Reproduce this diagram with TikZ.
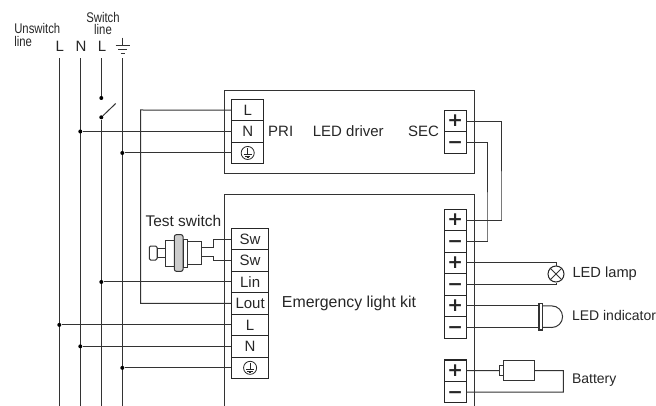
\documentclass[tikz,border=0pt]{standalone}
\usepackage{fontspec}
\setmainfont{Liberation Sans}
\newfontfamily\narrowfont[FakeStretch=0.81]{Liberation Sans}
\newfontfamily\signfont{DejaVu Sans}
\usetikzlibrary{positioning}
\tikzset{
    wire/.style={draw=black!80, line width=0.75pt},
    term/.style={
        draw=black!85, line width=0.8pt, outer sep=0pt, inner sep=0pt,
        minimum height=16.1pt, align=center,
        font=\fontsize{11.25}{13}\selectfont, text=black!85
    },
    termin/.style={term, minimum width=24pt},
    termlow/.style={term, minimum width=28.2pt},
    termsec/.style={term, minimum width=16.5pt, text height=8.8pt, text depth=0pt,
        font=\signfont\fontsize{14}{14}\bfseries\selectfont},
    lbl/.style={inner sep=0pt, outer sep=0pt, text=black!85, font=\fontsize{11.25}{13}\selectfont},
    sidelbl/.style={lbl, font=\fontsize{10.5}{13}\selectfont},
    toplbl/.style={inner sep=0pt, text=black!85, align=center, font=\narrowfont\fontsize{10.5}{9.6}\selectfont},
    busdot/.style={circle, fill=black, inner sep=0pt, minimum size=3pt},
    swpart/.style={draw=black!80, line width=0.75pt, inner sep=0pt, outer sep=0pt},
}
\begin{document}
\begin{tikzpicture}[x=0.75pt, y=-0.75pt]
\useasboundingbox (0,0) rectangle (656,406);

% ============ Mains lines ============

\node[toplbl, align=left, anchor=north west] (unsw) at (14,23) {Unswitch\\line};
\node[toplbl] (swl) at (103,23.5) {Switch\\line};
\node[lbl] (lbL) at (59.7,46) {L};
\node[lbl] (lbN) at (81,46) {N};
\node[lbl] (lbS) at (102,46) {L};

\coordinate (gndtop) at (122.3,37.7);
\coordinate (gndbar) at (122.3,45.7);
\draw[wire] (gndtop) -- (gndbar);
\draw[wire] (115.7,45.7) -- (130,45.7);
\draw[wire] (118.3,49.5) -- (127.3,49.5);
\draw[wire] (120.7,53.3) -- (125,53.3);

\foreach \busname/\busx in {L/59.3, N/80.3, S/101.3, E/122.3} {
    \coordinate (top\busname) at (\busx,58.3);
    \coordinate (bot\busname) at (\busx,406);
}
\draw[wire] (topL) -- (botL);
\draw[wire] (topN) -- (botN);
\draw[wire] (topE) -- (botE);

% switch in the switched line
\node[busdot] (swa) at (101.3,98) {};
\node[busdot] (swb) at (101.3,117.3) {};
\coordinate (swtip) at (115.7,103.5);
\draw[wire] (topS) -- (swa);
\draw[wire] (swb) -- (swtip);
\draw[wire] (swb) -- (botS);

% ============ LED driver ============

\coordinate (drvnw) at (224.3,91);
\coordinate (drvse) at (474.7,173.3);
\draw[wire] (drvnw) rectangle (drvse);

\node[termin, anchor=north west] (tPL) at (231.7,99.3) {L};
\node[termin, below=0pt of tPL] (tPN) {N};
\node[termin, below=0pt of tPN] (tPE) {};

\node[termsec, anchor=north west] (tSp) at (444.3,110.3) {+};
\node[termsec, below=0pt of tSp] (tSm) {−};

\node[lbl, right=3.4pt of tPN] (pri) {PRI};
\node[lbl, right=14.7pt of pri] (drv) {LED driver};
\node[lbl, anchor=east] (sec) at ([xshift=-4pt]tSp.south west) {SEC};

% ============ Emergency light kit ============

\coordinate (kitbl) at (224.3,406);
\coordinate (kittl) at (224.3,194.6);
\coordinate (kittr) at (474.7,194.6);
\coordinate (kitbr) at (474.7,406);
\draw[wire] (kitbl) -- (kittl) -- (kittr) -- (kitbr);

\node[termlow, anchor=north west] (tSw1) at (231.3,228.3) {Sw};
\node[termlow, below=0pt of tSw1] (tSw2) {Sw};
\node[termlow, below=0pt of tSw2] (tLin) {Lin};
\node[termlow, below=0pt of tLin] (tLout) {Lout};
\node[termlow, below=0pt of tLout] (tKL) {L};
\node[termlow, below=0pt of tKL] (tKN) {N};
\node[termlow, below=0pt of tKN] (tKE) {};

\node[termsec, anchor=north west] (tKp) at (444.3,209.3) {+};
\node[termsec, below=0pt of tKp] (tKm) {−};
\node[termsec, below=0pt of tKm] (tLp) {+};
\node[termsec, below=0pt of tLp] (tLm) {−};
\node[termsec, below=0pt of tLm] (tIp) {+};
\node[termsec, below=0pt of tIp] (tIm) {−};
\node[termsec, anchor=north west] (tBp) at (444.3,360) {+};
\node[termsec, below=0pt of tBp] (tBm) {−};

\node[lbl, right=9.8pt of tLout, font=\fontsize{11.9}{13}\selectfont] (kit) {Emergency light kit};

% earth marks in the terminals
\foreach \earth in {tPE, tKE} {
    \draw[line width=0.6pt, black!85] (\earth.center) circle (4.9pt);
    \draw[line width=0.6pt, black!85] ([yshift=3.6pt]\earth.center) -- ([yshift=-1pt]\earth.center);
    \draw[line width=0.6pt, black!85] ([xshift=-3pt, yshift=-1pt]\earth.center) -- ([xshift=3pt, yshift=-1pt]\earth.center);
    \draw[line width=0.6pt, black!85] ([xshift=-2pt, yshift=-2.3pt]\earth.center) -- ([xshift=2pt, yshift=-2.3pt]\earth.center);
    \draw[line width=0.6pt, black!85] ([xshift=-0.9pt, yshift=-3.5pt]\earth.center) -- ([xshift=0.9pt, yshift=-3.5pt]\earth.center);
}

% ============ Test switch ============

\node[lbl, font=\fontsize{11.6}{13}\selectfont] (tstlbl) at (183.4,220.5) {Test switch};
\node[swpart, rounded corners=1pt, minimum width=5.8pt, minimum height=10.5pt, anchor=west] (swbtn) at (149.3,253) {};
\node[swpart, minimum width=6pt, minimum height=7pt, right=0pt of swbtn] (swstem) {};
\node[swpart, minimum width=7pt, minimum height=19.5pt, right=0pt of swstem] (swneck) {};
\node[swpart, rounded corners=1.5pt, fill=black!20, minimum width=6.5pt, minimum height=27.5pt, right=0pt of swneck] (swring) {};
\node[swpart, minimum width=3pt, minimum height=21pt, right=0pt of swring] (swcol) {};
\node[swpart, minimum width=11pt, minimum height=16.7pt, right=0pt of swcol] (swbody) {};

\draw[wire] ([yshift=4.1pt]swbody.east) -- ++(11.5,0) |- (tSw1.west);
\draw[wire] ([yshift=-2.6pt]swbody.east) -- ++(11.5,0) |- (tSw2.west);

% ============ Loads ============

\node[draw=black!85, line width=0.75pt, circle, inner sep=0pt, minimum size=12pt] (lamp) at (556,274) {};
\draw[wire] (lamp.45) -- (lamp.225);
\draw[wire] (lamp.135) -- (lamp.315);
\node[sidelbl, font=\fontsize{11}{13}\selectfont, right=6pt of lamp] (lamplbl) {LED lamp};

\node[swpart, line width=0.9pt, minimum width=2.8pt, minimum height=20pt] (ledbar) at (540.9,316.7) {};
\node[sidelbl, anchor=west] (ledlbl) at (572,315.7) {LED indicator};

\node[swpart, minimum width=23.5pt, minimum height=14.3pt, anchor=west] (batbody) at (503.3,370.5) {};
\node[swpart, minimum width=3pt, minimum height=6.8pt, left=0pt of batbody] (batcap) {};
\coordinate (batcorner) at (563.3,392);
\node[sidelbl, anchor=west] (batlbl) at (572,380) {Battery};

% ============ Wires ============

\draw[wire] (tPL.west) -- (140.7,110) coordinate (lbend) |- (tLout.west);

\node[busdot] (dPN) at (topN |- tPN.west) {};
\node[busdot] (dPE) at (topE |- tPE.west) {};
\node[busdot] (dLin) at (topS |- tLin.west) {};
\node[busdot] (dKL) at (topL |- tKL.west) {};
\node[busdot] (dKN) at (topN |- tKN.west) {};
\node[busdot] (dKE) at (topE |- tKE.west) {};

\draw[wire] (dPN) -- (tPN.west);
\draw[wire] (dPE) -- (tPE.west);
\draw[wire] (dLin) -- (tLin.west);
\draw[wire] (dKL) -- (tKL.west);
\draw[wire] (dKN) -- (tKN.west);
\draw[wire] (dKE) -- (tKE.west);

\coordinate (plusrun) at (501,220);
\coordinate (minusrun) at (487,241);
\draw[wire] (tSp.east) -| (plusrun) |- (tKp.east);
\draw[wire] (tSm.east) -| (minusrun) |- (tKm.east);

\draw[wire] (tLp.east) -| (lamp.north);
\draw[wire] (tLm.east) -| (lamp.south);

\draw[wire] (tIp.east) -- (ledbar.west |- tIp.east);
\draw[wire] (tIm.east) -- (ledbar.west |- tIm.east);
\draw[wire] (ledbar.east |- tIp.east) -- ++(9,0) arc (-90:90:10.8) -- (ledbar.east |- tIm.east);

\draw[wire] (tBp.east) -- (batcap.west);
\draw[wire] (batbody.east) -| (batcorner) -- (tBm.east);

\end{tikzpicture}
\end{document}
